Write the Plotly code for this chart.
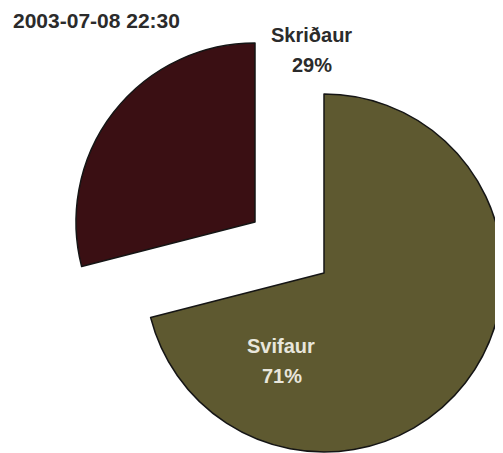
import plotly.graph_objects as go

# ---- data ----
title_text = "2003-07-08 22:30"
labels = ["Skriðaur", "Svifaur"]
values = [29, 71]
slice_colors = ["#3a0f13", "#5e5930"]

# page is 503x453; the html body has an 8px margin, so the figure is
# shrunk and every position below is given in page pixels minus that offset
PAGE_OFF = 8
W, H = 503 - PAGE_OFF, 453 - PAGE_OFF
total = sum(values)
pcts = [f"{round(100 * v / total)}%" for v in values]

# draw order: Svifaur first (clockwise from 12 o'clock), Skriðaur ends at 12
order = [1, 0]
t_labels = [labels[i] for i in order]
t_values = [values[i] for i in order]


def px_x(x):
    return (x - PAGE_OFF) / W


def px_y(y):
    return 1 - (y - PAGE_OFF) / H


def domain(cx, cy, r):
    return dict(x=[max(0, px_x(cx - r)), min(1, px_x(cx + r))],
                y=[max(0, px_y(cy + r)), min(1, px_y(cy - r))])


R = 179
TRANSP = "rgba(0,0,0,0)"
fig = go.Figure()

# main (non-exploded) slice: Svifaur
fig.add_trace(go.Pie(
    labels=t_labels, values=t_values, sort=False, direction="clockwise",
    rotation=0, textinfo="none", showlegend=False,
    marker=dict(colors=[slice_colors[1], TRANSP],
                line=dict(color="#151515", width=[1.5, 0])),
    domain=domain(324, 273, R),
))

# exploded slice: Skriðaur
fig.add_trace(go.Pie(
    labels=t_labels, values=t_values, sort=False, direction="clockwise",
    rotation=0, textinfo="none", showlegend=False,
    marker=dict(colors=[TRANSP, slice_colors[0]],
                line=dict(color="#151515", width=[0, 1.5])),
    domain=domain(255, 222, R),
))

font_title = dict(family="Liberation Sans, Arial, sans-serif", size=21, color="#2b2b2b")
font_dark = dict(family="Liberation Sans, Arial, sans-serif", size=20, color="#2b2b2b")
font_light = dict(family="Liberation Sans, Arial, sans-serif", size=20, color="#e8e6dc")

annotations = [
    dict(text=f"<b>{title_text}</b>", x=px_x(11), y=px_y(20), xanchor="left",
         yanchor="middle", font=font_title),
    dict(text=f"<b>{labels[0]}</b>", x=px_x(311), y=px_y(35), xanchor="center",
         yanchor="middle", font=font_dark),
    dict(text=f"<b>{pcts[0]}</b>", x=px_x(312), y=px_y(65), xanchor="center",
         yanchor="middle", font=font_dark),
    dict(text=f"<b>{labels[1]}</b>", x=px_x(281), y=px_y(346), xanchor="center",
         yanchor="middle", font=font_light),
    dict(text=f"<b>{pcts[1]}</b>", x=px_x(282), y=px_y(376), xanchor="center",
         yanchor="middle", font=font_light),
]
for a in annotations:
    a.update(xref="paper", yref="paper", showarrow=False)

fig.update_layout(
    width=W, height=H, margin=dict(l=0, r=0, t=0, b=0),
    paper_bgcolor="white", plot_bgcolor="white",
    annotations=annotations,
)

fig.write_html("out.html")
